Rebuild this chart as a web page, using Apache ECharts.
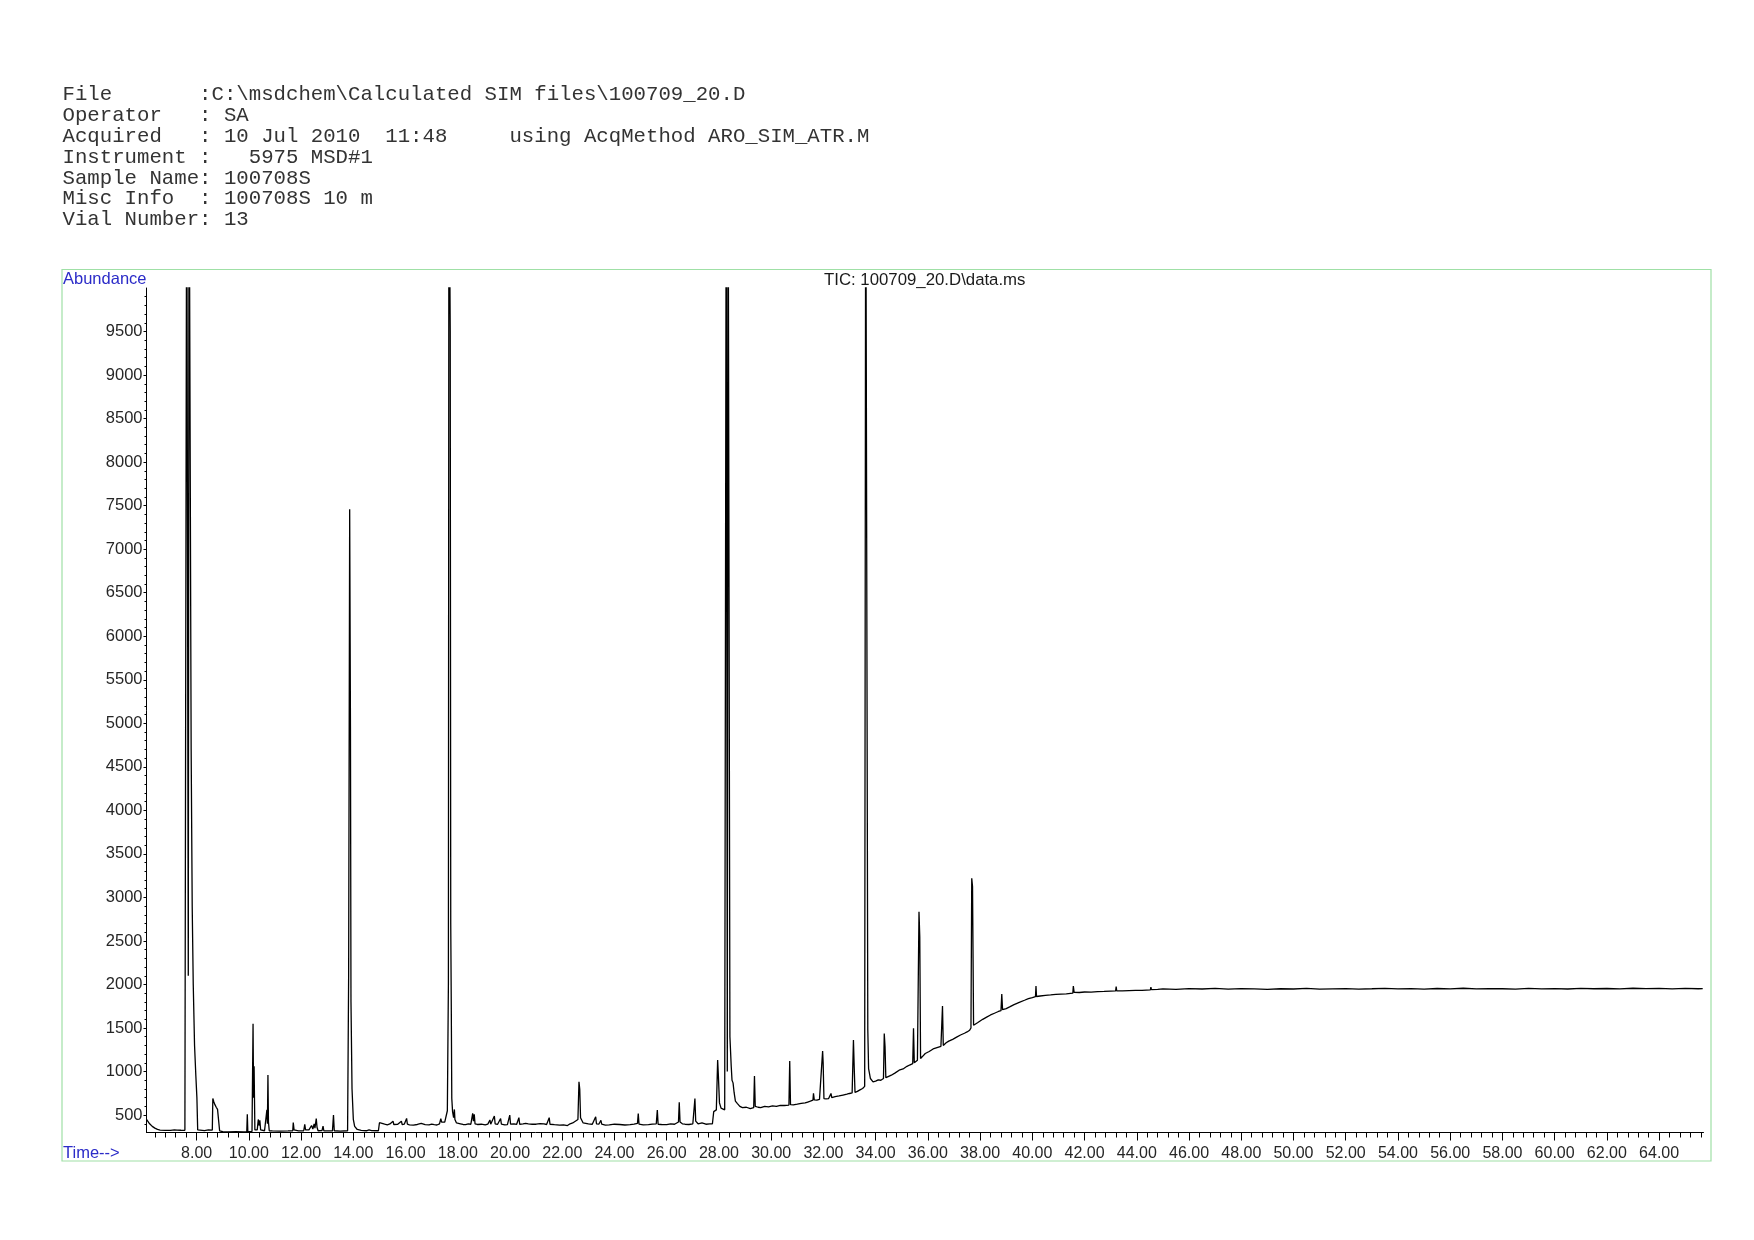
<!DOCTYPE html>
<html>
<head>
<meta charset="utf-8">
<script src="https://cdn.jsdelivr.net/npm/echarts@6/dist/echarts.min.js"></script>
<style>
html,body{margin:0;padding:0;background:#fff;}
#chart{width:1754px;height:1240px;}
</style>
</head>
<body>
<div id="chart"></div>
<script>
// ---- header text lines ----
var headerLines = [
  'File       :C:\\msdchem\\Calculated SIM files\\100709_20.D',
  'Operator   : SA',
  'Acquired   : 10 Jul 2010  11:48     using AcqMethod ARO_SIM_ATR.M',
  'Instrument :   5975 MSD#1',
  'Sample Name: 100708S',
  'Misc Info  : 100708S 10 m',
  'Vial Number: 13'
];
var chartTitle = 'TIC: 100709_20.D\\data.ms';
var yAxisName = 'Abundance';
var xAxisName = 'Time-->';

// ---- tick labels ----
var xTickLabels = [8, 10, 12, 14, 16, 18, 20, 22, 24, 26, 28, 30, 32, 34, 36, 38, 40, 42, 44, 46, 48, 50, 52, 54, 56, 58, 60, 62, 64];
var yTickLabels = [500, 1000, 1500, 2000, 2500, 3000, 3500, 4000, 4500, 5000, 5500, 6000, 6500, 7000, 7500, 8000, 8500, 9000, 9500];
var xRange = [6.08, 65.7];
var yRange = [300, 10000];
var xMinorStep = 0.4;
var yMinorStep = 100;

// ---- TIC trace segments: [retention time (min), abundance] ----
var traceInjection = [
  [6.08, 450], [6.12, 440], [6.2, 400], [6.3, 370], [6.4, 350], [6.5, 335], [6.6, 328], [6.8, 325],
  [7.0, 324], [7.15, 330], [7.2, 340], [7.25, 328], [7.4, 326], [7.55, 325], [7.6, 330],
  [7.62, 12000], [7.66, 12000], [7.68, 2100], [7.71, 12000], [7.76, 12000], [7.79, 4700],
  [7.83, 2900], [7.87, 2000], [7.92, 1300], [7.97, 950], [8.01, 700], [8.04, 330], [8.1, 325]
];
var traceEarly = [
  [8.3, 322], [8.45, 330], [8.5, 324], [8.6, 328], [8.62, 690], [8.66, 650], [8.7, 620], [8.75, 590],
  [8.8, 565], [8.85, 550], [8.88, 320], [9.0, 310], [9.2, 308], [9.5, 310], [9.8, 308],
  [9.92, 310], [9.94, 510], [9.96, 310], [10.12, 312], [10.16, 1550], [10.18, 700], [10.2, 1060],
  [10.23, 330], [10.32, 330], [10.36, 450], [10.39, 380], [10.42, 440], [10.45, 330],
  [10.6, 320], [10.67, 330], [10.69, 560], [10.71, 400], [10.73, 960], [10.75, 420], [10.78, 320],
  [10.9, 318], [11.2, 315], [11.5, 318], [11.68, 320], [11.7, 415], [11.73, 330],
  [11.9, 318], [12.1, 320], [12.14, 393], [12.17, 330], [12.3, 330], [12.4, 380], [12.45, 340],
  [12.5, 400], [12.53, 350], [12.58, 460], [12.61, 360], [12.65, 320], [12.8, 322],
  [12.84, 373], [12.87, 320], [13.2, 318], [13.24, 500], [13.27, 320], [13.5, 315], [13.78, 320],
  [13.82, 2090], [13.86, 7460], [13.89, 4950], [13.91, 1800], [13.95, 800], [14.0, 450],
  [14.05, 370], [14.15, 335], [14.3, 325], [14.5, 320], [14.6, 330], [14.7, 322], [14.96, 320],
  [15.0, 412], [15.05, 390]
];
var traceMiddle = [
  [15.2, 395], [15.3, 388], [15.4, 398], [15.52, 430], [15.55, 392], [15.62, 386], [15.7, 394],
  [15.84, 430], [15.87, 390], [15.95, 396], [16.02, 400], [16.04, 462], [16.07, 395], [16.15, 388],
  [16.3, 385], [16.45, 392], [16.6, 405], [16.62, 385], [16.75, 390], [16.9, 388], [17.0, 395],
  [17.1, 390], [17.2, 386], [17.3, 400], [17.35, 460], [17.38, 420], [17.5, 420], [17.6, 550],
  [17.64, 2000], [17.66, 12000], [17.7, 12000], [17.71, 9500], [17.73, 2700], [17.75, 1780],
  [17.77, 690], [17.8, 540], [17.84, 470], [17.87, 565], [17.89, 450], [17.95, 410],
  [18.1, 400], [18.2, 392], [18.3, 390], [18.4, 398], [18.5, 395], [18.57, 520], [18.6, 430],
  [18.63, 510], [18.66, 400], [18.75, 392], [18.9, 395], [19.05, 388], [19.15, 396], [19.23, 444],
  [19.26, 395], [19.33, 390], [19.4, 490], [19.43, 400], [19.52, 392], [19.64, 460], [19.67, 395],
  [19.8, 388], [19.9, 390], [19.99, 500], [20.02, 395], [20.15, 400], [20.25, 392], [20.34, 470],
  [20.37, 395], [20.5, 398], [20.6, 405], [20.7, 400], [20.85, 395], [21.0, 395], [21.15, 402],
  [21.3, 398], [21.4, 392], [21.5, 470], [21.53, 395], [21.7, 390], [21.9, 385], [22.05, 388],
  [22.2, 380], [22.3, 400], [22.4, 410], [22.5, 430], [22.6, 450], [22.64, 883], [22.67, 796],
  [22.7, 470], [22.8, 410], [22.9, 405], [23.0, 400], [23.15, 395], [23.28, 480], [23.31, 400],
  [23.4, 395], [23.48, 440], [23.51, 395], [23.65, 385], [23.8, 388], [24.0, 395], [24.2, 392],
  [24.4, 386], [24.6, 390], [24.75, 396], [24.88, 405], [24.91, 519], [24.94, 395], [25.1, 388],
  [25.3, 390], [25.45, 396], [25.6, 400], [25.64, 557], [25.67, 395], [25.8, 392], [26.0, 390],
  [26.15, 398], [26.3, 395], [26.45, 420], [26.48, 646], [26.51, 420], [26.6, 400], [26.7, 395],
  [26.85, 392], [27.0, 400], [27.08, 691], [27.11, 430], [27.2, 400], [27.35, 410], [27.5, 395],
  [27.65, 398], [27.75, 400], [27.8, 540], [27.9, 560], [27.95, 1132], [27.98, 939], [28.02, 640],
  [28.08, 580], [28.15, 560], [28.22, 560]
];
var traceLate = [
  [28.26, 565], [28.28, 12000], [28.32, 1000], [28.35, 12000], [28.39, 12000], [28.42, 1400],
  [28.47, 1060], [28.5, 900], [28.54, 870], [28.58, 760], [28.63, 660], [28.7, 634], [28.8, 600],
  [28.9, 585], [28.95, 577], [29.05, 590], [29.1, 580], [29.2, 575], [29.33, 585], [29.36, 948],
  [29.39, 600], [29.5, 590], [29.6, 585], [29.75, 600], [29.9, 595], [30.05, 605], [30.2, 600],
  [30.35, 612], [30.5, 610], [30.68, 615], [30.71, 1120], [30.74, 620], [30.85, 618], [31.0, 625],
  [31.15, 635], [31.3, 640], [31.4, 650], [31.5, 660], [31.6, 672], [31.62, 749], [31.65, 675],
  [31.75, 672], [31.85, 680], [31.97, 1235], [31.99, 1100], [32.02, 690], [32.1, 685], [32.2, 690],
  [32.29, 749], [32.32, 700], [32.45, 712], [32.6, 720], [32.75, 730], [32.9, 740], [33.0, 748],
  [33.1, 755], [33.15, 1362], [33.18, 1040], [33.21, 760], [33.3, 772], [33.4, 790], [33.5, 805],
  [33.58, 830], [33.62, 12000], [33.66, 12000], [33.7, 1477], [33.73, 1035], [33.8, 920],
  [33.9, 882], [34.0, 890], [34.1, 905], [34.2, 900], [34.3, 920], [34.33, 1438], [34.36, 1285],
  [34.39, 930], [34.5, 945], [34.6, 958], [34.75, 985], [34.9, 1016], [35.05, 1030], [35.2, 1060],
  [35.3, 1075], [35.42, 1090], [35.45, 1496], [35.48, 1100], [35.6, 1130], [35.66, 2836],
  [35.69, 2545], [35.72, 1150], [35.8, 1175], [35.9, 1207], [36.05, 1230], [36.2, 1260],
  [36.35, 1275], [36.5, 1290], [36.56, 1752], [36.59, 1300], [36.7, 1330], [36.8, 1350],
  [36.95, 1370], [37.1, 1395], [37.25, 1420], [37.4, 1440], [37.5, 1455], [37.6, 1475],
  [37.65, 1500], [37.68, 3220], [37.71, 3124], [37.75, 1532], [37.82, 1545], [37.9, 1560],
  [38.0, 1580], [38.1, 1600], [38.25, 1625], [38.4, 1650], [38.55, 1670], [38.7, 1690],
  [38.8, 1700], [38.83, 1890], [38.86, 1710], [39.0, 1723], [39.15, 1745], [39.3, 1769],
  [39.5, 1795], [39.7, 1819], [39.85, 1838], [40.0, 1850], [40.12, 1860], [40.14, 1982],
  [40.16, 1862], [40.3, 1868], [40.5, 1876], [40.7, 1880], [40.9, 1887], [41.1, 1890],
  [41.3, 1893], [41.55, 1900], [41.57, 1982], [41.6, 1910], [41.8, 1908], [42.0, 1914],
  [42.25, 1912], [42.5, 1918], [42.75, 1920], [43.0, 1924], [43.19, 1926], [43.21, 1975],
  [43.23, 1928], [43.45, 1926], [43.7, 1930], [43.95, 1932], [44.2, 1933], [44.52, 1938],
  [44.54, 1971], [44.56, 1940], [44.8, 1945], [45.0, 1950]
];
var tracePlateau = [
  [45.5, 1945], [46.0, 1952], [46.5, 1948], [47.0, 1955], [47.5, 1947], [48.0, 1953], [48.5, 1950],
  [49.0, 1944], [49.5, 1951], [50.0, 1948], [50.5, 1955], [51.0, 1946], [51.5, 1950], [52.0, 1953],
  [52.5, 1947], [53.0, 1951], [53.5, 1956], [54.0, 1949], [54.5, 1952], [55.0, 1946], [55.5, 1954],
  [56.0, 1950], [56.5, 1957], [57.0, 1949], [57.5, 1953], [58.0, 1951], [58.5, 1947], [59.0, 1955],
  [59.5, 1950], [60.0, 1953], [60.5, 1948], [61.0, 1956], [61.5, 1951], [62.0, 1954], [62.5, 1949],
  [63.0, 1957], [63.5, 1952], [64.0, 1955], [64.5, 1950], [65.0, 1956], [65.5, 1951], [65.67, 1953]
];

// ---- build ----
var traceData = [].concat(traceInjection, traceEarly, traceMiddle, traceLate, tracePlateau);

function minorTicks(lo, hi, step, majors) {
  var out = [];
  var n = Math.round((hi - lo) / step);
  for (var i = 0; i <= n; i++) {
    var v = Math.round((lo + i * step) * 1000) / 1000;
    if (majors.indexOf(v) === -1) out.push(v);
  }
  return out;
}
var xMinor = minorTicks(6.4, 65.6, xMinorStep, xTickLabels);
var yMinor = minorTicks(400, 9900, yMinorStep, yTickLabels);

var GRID = { left: 146.5, right: 50.5, top: 288, bottom: 107.5 };
var labelFont = 'Liberation Sans, Arial, sans-serif';
var monoFont = 'Liberation Mono, Courier New, monospace';

var graphics = [
  {
    type: 'rect', silent: true, z: 0,
    shape: { x: 62, y: 269.5, width: 1649, height: 891.5 },
    style: { fill: 'none', stroke: '#9fe0a6', lineWidth: 1.2 }
  },
  {
    type: 'text', left: 63, top: 271,
    style: { text: yAxisName, fill: '#2b2bc8', font: '16.5px ' + labelFont }
  },
  {
    type: 'text', left: 63, top: 1145,
    style: { text: xAxisName, fill: '#2b2bc8', font: '16.5px ' + labelFont }
  },
  {
    type: 'text', left: 824, top: 272,
    style: { text: chartTitle, fill: '#1a1a1a', font: '16.8px ' + labelFont }
  }
];
headerLines.forEach(function (line, i) {
  graphics.push({
    type: 'text', x: 62.5, y: 95 + i * 20.8,
    style: {
      text: line, fill: '#333', font: '20.7px ' + monoFont,
      verticalAlign: 'middle', align: 'left'
    }
  });
});

var chart = echarts.init(document.getElementById('chart'), null, { renderer: 'canvas' });
chart.setOption({
  animation: false,
  backgroundColor: '#fff',
  grid: [
    Object.assign({ containLabel: false }, GRID),
    Object.assign({ containLabel: false }, GRID)
  ],
  xAxis: [
    {
      type: 'value', gridIndex: 0, min: xRange[0], max: xRange[1], position: 'bottom',
      axisLine: { show: true, onZero: false, lineStyle: { color: '#000', width: 1 } },
      axisTick: { show: true, customValues: xTickLabels, length: 8, lineStyle: { color: '#000', width: 1 } },
      axisLabel: {
        show: true, customValues: xTickLabels, margin: 13, color: '#262626',
        fontFamily: labelFont, fontSize: 16,
        formatter: function (v) { return Number(v).toFixed(2); }
      },
      splitLine: { show: false }
    },
    {
      type: 'value', gridIndex: 1, min: xRange[0], max: xRange[1], position: 'bottom',
      axisLine: { show: false, onZero: false },
      axisTick: { show: true, customValues: xMinor, length: 5, lineStyle: { color: '#000', width: 1 } },
      axisLabel: { show: false },
      splitLine: { show: false }
    }
  ],
  yAxis: [
    {
      type: 'value', gridIndex: 0, min: yRange[0], max: yRange[1], position: 'left',
      axisLine: { show: true, onZero: false, lineStyle: { color: '#000', width: 1 } },
      axisTick: { show: true, customValues: yTickLabels, length: 3, lineStyle: { color: '#000', width: 1 } },
      axisLabel: {
        show: true, customValues: yTickLabels, margin: 4, color: '#262626',
        fontFamily: labelFont, fontSize: 16.5,
        formatter: function (v) { return String(v); }
      },
      splitLine: { show: false }
    },
    {
      type: 'value', gridIndex: 1, min: yRange[0], max: yRange[1], position: 'left',
      axisLine: { show: false, onZero: false },
      axisTick: { show: true, customValues: yMinor, length: 2, lineStyle: { color: '#000', width: 1 } },
      axisLabel: { show: false },
      splitLine: { show: false }
    }
  ],
  graphic: graphics,
  series: [
    {
      type: 'line', xAxisIndex: 0, yAxisIndex: 0, data: traceData,
      showSymbol: false, symbol: 'none', clip: true, smooth: false,
      lineStyle: { color: '#000', width: 1.3 },
      emphasis: { disabled: true }, silent: true
    },
    {
      type: 'line', xAxisIndex: 1, yAxisIndex: 1, data: [], showSymbol: false, silent: true
    }
  ]
});
</script>
</body>
</html>
